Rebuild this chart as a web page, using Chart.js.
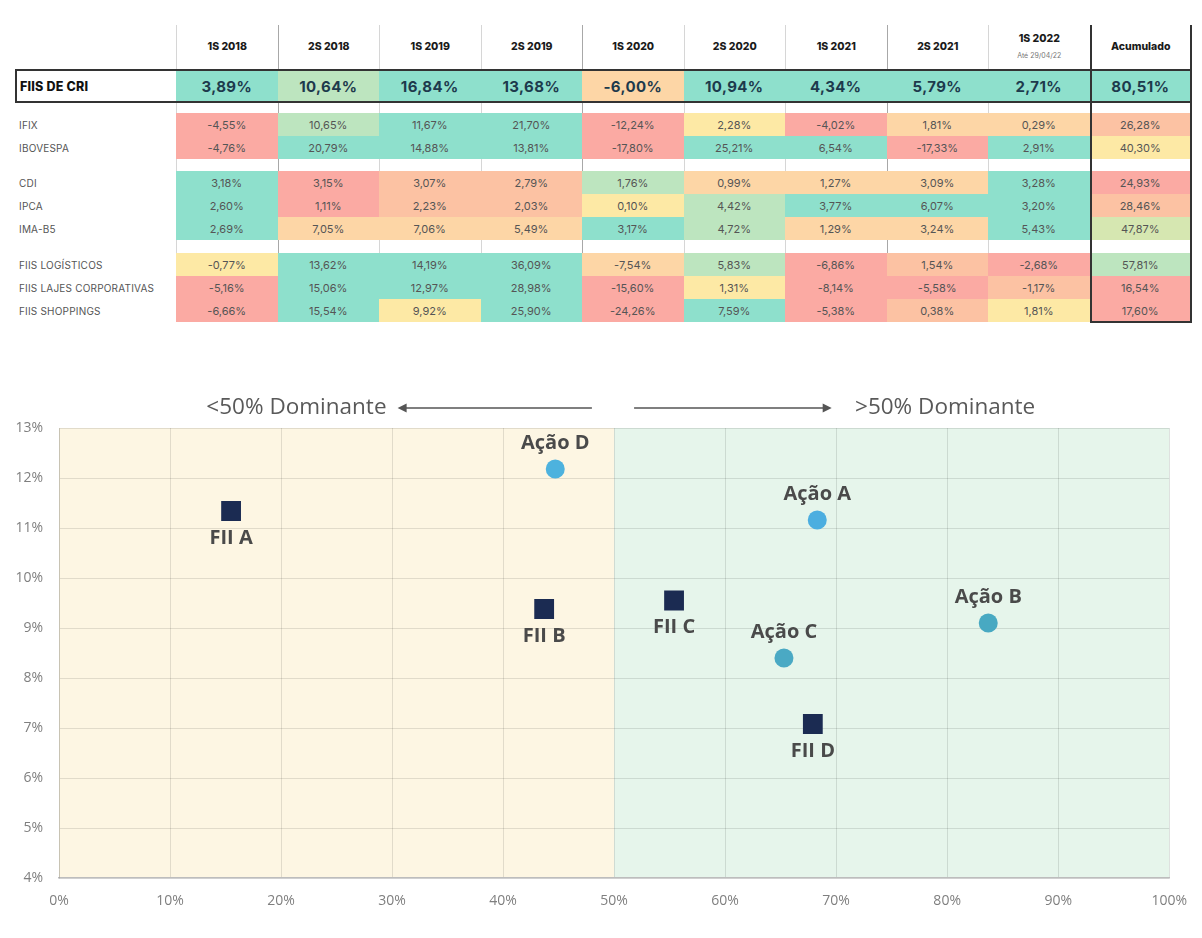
<!DOCTYPE html>
<html lang="pt-BR">
<head>
<meta charset="utf-8">
<title>FIIs de CRI x Benchmarks</title>
<script src="https://cdn.jsdelivr.net/npm/chart.js@4.4.0/dist/chart.umd.min.js"></script>
<style>
    body { margin: 0; width: 1202px; height: 938px; background: #fff; position: relative; overflow: hidden; font-family: Inter, 'Noto Sans', sans-serif; }
    #tabela { position: absolute; left: 0; top: 0; width: 1202px; height: 340px; }
    .c { position: absolute; display: flex; flex-direction: column; align-items: center; justify-content: center; box-sizing: border-box; white-space: nowrap; }
    .rot { align-items: flex-start; padding-left: 4px; color: #555; font-size: 10px; letter-spacing: 0.2px; }
    .val { color: #555; font-size: 11px; }
    .cab { font-weight: 800; font-size: 10.5px; color: #1a1a1a; }
    .nota { font-weight: 400; font-size: 7px; color: #777; margin-top: 6px; }
    .cri { font-weight: 700; font-size: 15px; color: #1d3a4c; letter-spacing: 0.4px; }
    .linha { position: absolute; width: 1px; background: #d6d6d6; }
    #grafico { position: absolute; left: 0; top: 380px; width: 1202px; height: 558px; }
</style>
</head>
<body>
<div id="tabela"></div>
<div id="grafico"><canvas id="dispersao"></canvas></div>
<script>
// 🔹 Tabela de rentabilidade
const periodos = ['1S 2018', '2S 2018', '1S 2019', '2S 2019', '1S 2020', '2S 2020', '1S 2021', '2S 2021', '1S 2022', 'Acumulado'];
const notaPeriodo = 'Até 29/04/22';

const fiisDeCri = [3.89, 10.64, 16.84, 13.68, -6.00, 10.94, 4.34, 5.79, 2.71, 80.51];
const ifix = [-4.55, 10.65, 11.67, 21.70, -12.24, 2.28, -4.02, 1.81, 0.29, 26.28];
const ibovespa = [-4.76, 20.79, 14.88, 13.81, -17.80, 25.21, 6.54, -17.33, 2.91, 40.30];
const cdi = [3.18, 3.15, 3.07, 2.79, 1.76, 0.99, 1.27, 3.09, 3.28, 24.93];
const ipca = [2.60, 1.11, 2.23, 2.03, 0.10, 4.42, 3.77, 6.07, 3.20, 28.46];
const imaB5 = [2.69, 7.05, 7.06, 5.49, 3.17, 4.72, 1.29, 3.24, 5.43, 47.87];
const fiisLogisticos = [-0.77, 13.62, 14.19, 36.09, -7.54, 5.83, -6.86, 1.54, -2.68, 57.81];
const fiisLajes = [-5.16, 15.06, 12.97, 28.98, -15.60, 1.31, -8.14, -5.58, -1.17, 16.54];
const fiisShoppings = [-6.66, 15.54, 9.92, 25.90, -24.26, 7.59, -5.38, 0.38, 1.81, 17.60];

// cores da formatação condicional (uma letra por célula)
const paleta = { T: '#8ee0cc', G: '#bde5bf', Y: '#fde9a5', P: '#fdd6a6', S: '#fcc2a3', R: '#fbaaa3', L: '#d6e7b1' };
const corFiisDeCri = 'TGTTPTTTTT';
const corIfix = 'RGTTRYRPPS';
const corIbovespa = 'RTTTRTTRTY';
const corCdi = 'TRSSGPPPTR';
const corIpca = 'TRSSYGTTTS';
const corImaB5 = 'TPPPTGPPTL';
const corLogisticos = 'YTTTPGRSRG';
const corLajes = 'RTTTRYRRSR';
const corShoppings = 'RTYTRTRSYR';

// 🔹 Gráfico de dispersão
const acoesNomes = ['Ação A', 'Ação B', 'Ação C', 'Ação D'];
const acoesX = [68.3, 83.7, 65.3, 44.7];
const acoesY = [11.16, 9.10, 8.40, 12.18];
const acoesCores = ['#4caee0', '#48a9c2', '#4aa9c4', '#4db2de'];

const fiisNomes = ['FII A', 'FII B', 'FII C', 'FII D'];
const fiisX = [15.5, 43.7, 55.4, 67.9];
const fiisY = [11.34, 9.38, 9.55, 7.08];

const eixoX = { min: 0, max: 100, passo: 10 };
const eixoY = { min: 4, max: 13, passo: 1 };

function fmt(v) {
    return v.toFixed(2).replace('.', ',') + '%';
}

// ---------- montagem da tabela ----------
const tabela = document.getElementById('tabela');
const x0 = 176, larg = 101.5;

function celula(x, y, w, h, html, classe, estilo) {
    const d = document.createElement('div');
    d.className = 'c ' + (classe || '');
    d.style.left = x + 'px';
    d.style.top = y + 'px';
    d.style.width = w + 'px';
    d.style.height = h + 'px';
    if (estilo) Object.assign(d.style, estilo);
    d.innerHTML = html;
    tabela.appendChild(d);
    return d;
}

// linhas verticais de fundo
for (let i = 0; i <= 9; i++) {
    const l = document.createElement('div');
    l.className = 'linha';
    l.style.left = (x0 + i * larg) + 'px';
    l.style.top = '25px';
    l.style.height = '297px';
    if (i % 3 === 1) l.style.background = '#a8a8a8';
    tabela.appendChild(l);
}

// cabeçalho
periodos.forEach((p, i) => {
    let html = p;
    if (p === '1S 2022') html = p + '<span class="nota">' + notaPeriodo + '</span>';
    celula(x0 + i * larg, 25, larg, 42, html, 'cab', { background: '#fff', left: (x0 + i * larg + 1) + 'px', width: (larg - 1) + 'px' });
});

// linha principal (FIIs de CRI)
celula(15, 70, 161, 32, 'FIIS DE CRI', 'rot', { color: '#111', fontWeight: 800, fontSize: '12.5px', paddingLeft: '5px', background: '#fff' });
fiisDeCri.forEach((v, i) => {
    celula(x0 + i * larg, 70, larg, 32, fmt(v), 'cri', { background: paleta[corFiisDeCri[i]] });
});
celula(15, 69, 1177, 34, '', '', { border: '2px solid #333', borderRight: 'none' });

const grupos = [
    { y: 113, linhas: [['IFIX', ifix, corIfix], ['IBOVESPA', ibovespa, corIbovespa]] },
    { y: 171, linhas: [['CDI', cdi, corCdi], ['IPCA', ipca, corIpca], ['IMA-B5', imaB5, corImaB5]] },
    { y: 253, linhas: [['FIIS LOGÍSTICOS', fiisLogisticos, corLogisticos], ['FIIS LAJES CORPORATIVAS', fiisLajes, corLajes], ['FIIS SHOPPINGS', fiisShoppings, corShoppings]] }
];
const altLinha = 23;
grupos.forEach(g => {
    g.linhas.forEach((ln, k) => {
        const y = g.y + k * altLinha;
        celula(15, y, 161, altLinha, ln[0], 'rot', { background: '#fff' });
        ln[1].forEach((v, i) => {
            celula(x0 + i * larg, y, larg, altLinha, fmt(v), 'val', { background: paleta[ln[2][i]] });
        });
    });
});

// moldura da coluna "Acumulado"
celula(x0 + 9 * larg, 25, larg + 1, 298, '', '', { borderLeft: '2px solid #333', borderRight: '2px solid #333', borderBottom: '2px solid #333' });

// ---------- plugins do gráfico ----------
const fundoRegioes = {
    id: 'fundoRegioes',
    beforeDraw(chart) {
        const { ctx, chartArea: a, scales: { x } } = chart;
        const meio = x.getPixelForValue(50);
        ctx.save();
        ctx.fillStyle = '#fdf6e3';
        ctx.fillRect(a.left, a.top, meio - a.left, a.bottom - a.top);
        ctx.fillStyle = '#e6f5eb';
        ctx.fillRect(meio, a.top, a.right - meio, a.bottom - a.top);
        ctx.restore();
    }
};

const setasDominante = {
    id: 'setasDominante',
    afterDraw(chart) {
        const { ctx, scales: { x } } = chart;
        const y = 28;
        ctx.save();
        ctx.strokeStyle = '#555';
        ctx.fillStyle = '#555';
        ctx.lineWidth = 1.5;
        function seta(de, ate) {
            const p1 = x.getPixelForValue(de), p2 = x.getPixelForValue(ate);
            const dir = Math.sign(p2 - p1);
            ctx.beginPath();
            ctx.moveTo(p1, y);
            ctx.lineTo(p2 - dir * 8, y);
            ctx.stroke();
            ctx.beginPath();
            ctx.moveTo(p2, y);
            ctx.lineTo(p2 - dir * 9, y - 4.5);
            ctx.lineTo(p2 - dir * 9, y + 4.5);
            ctx.closePath();
            ctx.fill();
        }
        seta(48.0, 30.5);
        seta(51.8, 69.6);
        ctx.font = '22.5px "Open Sans"';
        ctx.fillStyle = '#595959';
        ctx.textBaseline = 'middle';
        ctx.textAlign = 'right';
        ctx.fillText('<50% Dominante', x.getPixelForValue(29.5), y);
        ctx.textAlign = 'left';
        ctx.fillText('>50% Dominante', x.getPixelForValue(71.7), y);
        ctx.restore();
    }
};

const rotulosPontos = {
    id: 'rotulosPontos',
    afterDatasetsDraw(chart) {
        const { ctx } = chart;
        ctx.save();
        ctx.font = 'bold 20px "Open Sans"';
        ctx.fillStyle = '#4a4a4a';
        ctx.textAlign = 'center';
        ctx.textBaseline = 'middle';
        chart.data.datasets.forEach((ds, di) => {
            const meta = chart.getDatasetMeta(di);
            meta.data.forEach((pt, i) => {
                const dy = ds.rotuloAcima ? -26 : 27;
                ctx.fillText(ds.nomes[i], pt.x, pt.y + dy);
            });
        });
        ctx.restore();
    }
};

// ---------- gráfico ----------
const ctx = document.getElementById('dispersao').getContext('2d');
new Chart(ctx, {
    type: 'scatter',
    data: {
        datasets: [
            {
                label: 'Ações',
                nomes: acoesNomes,
                rotuloAcima: true,
                data: acoesX.map((v, i) => ({ x: v, y: acoesY[i] })),
                pointStyle: 'circle',
                pointRadius: 9.5,
                pointHoverRadius: 9.5,
                backgroundColor: acoesCores,
                borderWidth: 0
            },
            {
                label: 'FIIs',
                nomes: fiisNomes,
                rotuloAcima: false,
                data: fiisX.map((v, i) => ({ x: v, y: fiisY[i] })),
                pointStyle: 'rect',
                pointRadius: 14,
                pointHoverRadius: 14,
                backgroundColor: '#1b2b52',
                borderWidth: 0
            }
        ]
    },
    options: {
        responsive: true,
        maintainAspectRatio: false,
        animation: false,
        layout: { padding: { top: 48, right: 31, left: 0, bottom: 0 } },
        plugins: {
            legend: { display: false },
            tooltip: { enabled: false }
        },
        scales: {
            x: {
                type: 'linear',
                min: eixoX.min,
                max: eixoX.max,
                afterFit: s => { s.height = 60; },
                grid: { color: 'rgba(0,0,0,0.11)', drawTicks: false },
                border: { color: '#bdbdbd', width: 1.5 },
                ticks: {
                    stepSize: eixoX.passo,
                    padding: 15,
                    color: '#7f7f7f',
                    font: { family: '"Open Sans"', size: 14 },
                    callback: v => v + '%'
                }
            },
            y: {
                type: 'linear',
                min: eixoY.min,
                max: eixoY.max,
                afterFit: s => { s.width = 59; },
                grid: { color: 'rgba(0,0,0,0.11)', drawTicks: false },
                border: { color: 'rgba(0,0,0,0.11)' },
                ticks: {
                    stepSize: eixoY.passo,
                    padding: 16,
                    color: '#7f7f7f',
                    font: { family: '"Open Sans"', size: 14 },
                    callback: v => v + '%'
                }
            }
        }
    },
    plugins: [fundoRegioes, setasDominante, rotulosPontos]
});
</script>
</body>
</html>
